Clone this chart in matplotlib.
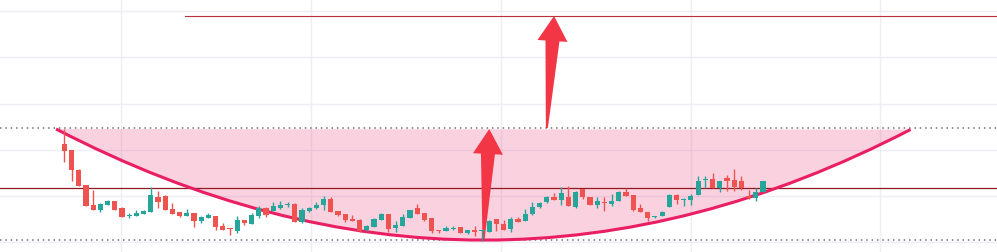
import numpy as np
import matplotlib
matplotlib.use("Agg")
import matplotlib.pyplot as plt
from matplotlib.path import Path
from matplotlib.patches import PathPatch, Polygon
from matplotlib.transforms import IdentityTransform

# candle data (price units)
opens = [108, 102, 82.3, 67.3, 47, 42.3, 47.3, 50.7, 44, 36.3,
         36.3, 38, 40.3, 54.7, 56.3, 43, 39.7, 36, 39, 31.3,
         34.3, 35.7, 26, 23.7, 21.3, 32, 28, 36.3, 43.7, 41,
         43.7, 47.3, 48, 30.3, 41, 43.7, 47.3, 53, 41, 38.3,
         33, 32, 22, 25.3, 32.3, 38.3, 24.3, 26.3, 33.7, 44,
         39, 33.7, 22, 21.3, 23, 24.7, 19, 22, 20.7, 20.3,
         33, 28, 23, 33, 31.3, 38, 44.7, 50.3, 54.7, 52.3,
         54.7, 44.7, 63, 54.7, 47.3, 49.3, 48, 50.7, 59.7, 57,
         44, 39.7, 34.7, 36.3, 44.7, 57.3, 52.3, 52.3, 57.3, 72,
         73, 63.7, 73.7, 72, 70.7, 56.3, 53.7, 59.7]
highs = [123, 102, 83, 67.3, 62, 49, 52, 50.7, 44.7, 39,
         41.7, 42, 65, 61, 56.7, 49, 39.7, 43, 39, 35.7,
         39, 35.7, 28.7, 23.7, 35.7, 32, 39.5, 46, 44.7, 50.5,
         51, 49.7, 48.7, 43.7, 44.7, 49.7, 56.3, 55.3, 41, 38.3,
         37, 33, 27, 33.7, 39.3, 38.3, 31.3, 38, 42.5, 48,
         39, 33.7, 22, 26, 25.7, 24.7, 22, 26, 22.5, 32.3,
         33, 32, 34.7, 34.7, 43, 50.3, 49.7, 56.3, 58.7, 64.7,
         65.7, 60.7, 63, 54.7, 54.7, 55.3, 58, 60.7, 63.7, 57,
         48, 39.7, 35.7, 40.7, 58, 58, 54, 58, 76.3, 76.3,
         78.7, 71.3, 77, 83, 76.3, 62, 63.7, 70.7]
lows = [90.3, 71.3, 66.3, 45.7, 42.3, 40.3, 47, 42.3, 35.3, 34,
        36.3, 38, 39.7, 44.3, 42.3, 38.3, 35.3, 36, 25.3, 29.3,
        34.3, 22, 22.3, 17.3, 19.3, 27.3, 28, 34.3, 35.3, 41,
        43, 45, 30.3, 29.3, 40.3, 43, 42.3, 40.3, 36.3, 29.7,
        31, 19.7, 21.3, 25.3, 32.3, 20.3, 20.3, 26.3, 33.7, 38.3,
        31.3, 19, 19, 21.3, 22, 19.3, 18.3, 15.7, 11, 19.7,
        21.3, 22, 20.3, 29.7, 30.7, 37.3, 44, 49, 52.3, 47.3,
        46.3, 44, 53, 47, 43.7, 41.3, 45.7, 50.7, 55.7, 41.3,
        39.7, 31.3, 34.3, 36.3, 44.7, 48, 46.3, 47.3, 57.3, 64,
        64, 59.7, 61.3, 61.3, 62.3, 53, 51.3, 59.7]
closes = [101.3, 82.3, 66.3, 46.3, 42.3, 48, 51.3, 42.3, 35.3, 37,
          39, 41, 57, 50.3, 42.3, 38.3, 36, 38.7, 31.3, 35.3,
          37, 25.3, 22.3, 23, 32, 28.7, 36.7, 44, 37, 46,
          47, 48.3, 30.3, 42, 44, 47.3, 53, 40.3, 37.3, 32.3,
          31, 20.7, 25.7, 33, 38.3, 23, 27, 35.3, 41.7, 38.3,
          32.3, 20.7, 21, 23.7, 24, 19.3, 22, 20.3, 22, 31.3,
          28.3, 22, 33, 30.3, 38, 44.7, 49, 54.7, 52.3, 59,
          46.3, 59.7, 54.7, 47.3, 51.3, 48.7, 51.3, 59.7, 56.3, 42,
          39.7, 34, 35, 40.3, 57.3, 52.3, 52.7, 56.3, 70.7, 73,
          64, 71.3, 70.7, 65.3, 64, 53.7, 60.3, 70.7]

# drawings
resistance_level = 64
target_level = 236
target_start = 16.8
dotted_levels = [123.7, 12]
curve_points = [(-1.15, 123), (58.2, -99), (117.5, 122.5)]
arrows = [((58.2, 12), (59.0, 123)), ((67.0, 124), (68.0, 236))]

UP = '#26a69a'
DOWN = '#ef5350'

fig = plt.figure(figsize=(9.97, 2.53), dpi=100)
ax = fig.add_axes([0, 0, 1, 1])
ax.set_xlim(-8.93, 129.5)
ax.set_ylim(0, 253)

ax.set_xticks([7.9 + 26.35 * k for k in range(5)])
ax.set_yticks([10, 56, 102, 148.5, 195, 241])
ax.grid(True, color='#eeeef4', lw=1)
ax.tick_params(length=0, labelbottom=False, labelleft=False)
for s in ax.spines.values():
    s.set_visible(False)
ax.set_axisbelow(True)

# curve fill + line
verts = curve_points + [curve_points[0]]
fill_path = Path(verts, [Path.MOVETO, Path.CURVE3, Path.CURVE3, Path.CLOSEPOLY])
ax.add_patch(PathPatch(fill_path, facecolor='#e91e63', alpha=0.2, edgecolor='none', zorder=1))
line_path = Path(curve_points, [Path.MOVETO, Path.CURVE3, Path.CURVE3])
ax.add_patch(PathPatch(line_path, facecolor='none', edgecolor='#e91e63', lw=2.2, zorder=4))

for lvl in dotted_levels:
    ax.axhline(lvl, color='#6f727c', lw=1.1, ls=(0, (1, 2.5)), zorder=2)
ax.axhline(resistance_level, color='#8f1a24', lw=0.9, zorder=2)
ax.plot([target_start, 140], [target_level, target_level], color='#b8303b', lw=0.8, zorder=2)

# arrows (tapered, built in pixel space)
def tapered_arrow(tail, tip, head_len=25, head_w=30, shaft_w=14, tail_w=2):
    p0 = ax.transData.transform(tail)
    p1 = ax.transData.transform(tip)
    d = p1 - p0
    u = d / np.hypot(*d)
    n = np.array([-u[1], u[0]])
    base = p1 - u * head_len
    pts = [p0 + n * tail_w / 2, base + n * shaft_w / 2, base + n * head_w / 2, p1,
           base - n * head_w / 2, base - n * shaft_w / 2, p0 - n * tail_w / 2]
    ax.add_patch(Polygon(pts, closed=True, transform=IdentityTransform(),
                         facecolor='#f23645', edgecolor='none', zorder=3))

for tail, tip in arrows:
    tapered_arrow(tail, tip)

# candles
x = np.arange(len(opens))
o = np.array(opens); h = np.array(highs); l = np.array(lows); c = np.array(closes)
colors = [UP if cc >= oo else DOWN for oo, cc in zip(o, c)]
ax.vlines(x, l, h, colors=colors, lw=1, zorder=5)
bottoms = np.minimum(o, c)
heights = np.maximum(np.abs(c - o), 1.0)
ax.bar(x, heights, bottom=bottoms, width=0.72, color=colors, zorder=6)

fig.savefig('out.png', dpi=100)
